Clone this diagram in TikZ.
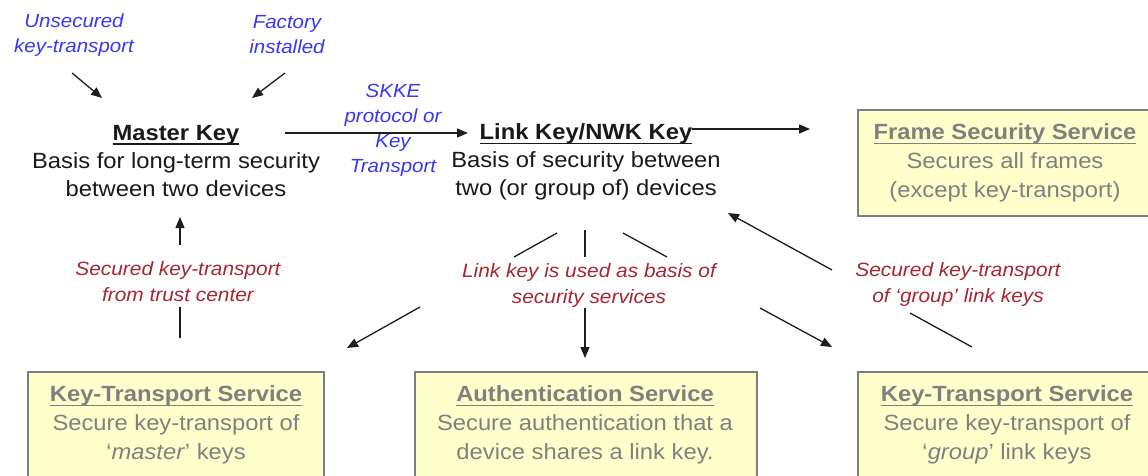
\documentclass[tikz,border=0pt]{standalone}
\usepackage{fontspec}
\setmainfont{Liberation Sans}[FakeStretch=1.08]
\newcommand{\myul}[1]{\leavevmode\setbox0\hbox{#1}\rlap{\rule[-4.5pt]{\wd0}{1.6pt}}\box0}
\usetikzlibrary{arrows.meta}
\definecolor{bluet}{RGB}{55,55,245}
\definecolor{redt}{RGB}{168,38,50}
\definecolor{maincol}{RGB}{25,25,25}
\definecolor{boxfill}{RGB}{255,255,204}
\definecolor{boxline}{RGB}{125,125,125}
\definecolor{boxtext}{RGB}{128,128,128}
\definecolor{arrcol}{RGB}{30,30,30}
\begin{document}
\begin{tikzpicture}[x=1pt,y=-1pt,
  maintext/.style={font=\fontsize{22}{28}\selectfont, text=maincol, align=center, inner sep=0pt},
  bluelab/.style={font=\fontsize{19}{25}\selectfont\itshape, text=bluet, align=center, inner sep=0pt},
  redlab/.style={font=\fontsize{19.3}{26}\selectfont\itshape, text=redt, align=center, inner sep=0pt},
  svcbox/.style={draw=boxline, line width=1.5pt, fill=boxfill, anchor=north west, inner sep=0pt},
  svctext/.style={font=\fontsize{22}{29}\selectfont, text=boxtext, align=center, inner sep=0pt},
  arr/.style={draw=arrcol, line width=1.3pt, -{Triangle[length=11pt,width=9pt]}},
  ln/.style={draw=arrcol, line width=1.3pt}]
\useasboundingbox (0,0) rectangle (1148,475);
\fill[white] (0,0) rectangle (1148,475);

% top labels and key blocks
\node[bluelab] (uns) at (74,35) {Unsecured\\key-transport};
\node[bluelab] (fac) at (287,35) {Factory\\installed};
\node[maintext] (mk) at (176,161) {\textbf{\myul{Master Key}}\\Basis for long-term security\\between two devices};
\node[bluelab] (skke) at (393,130) {SKKE\\protocol or\\Key\\Transport};
\node[maintext] (lk) at (586,162) {\textbf{\myul{Link Key/NWK Key}}\\Basis of security between\\two (or group of) devices};

% service boxes
\node[svcbox, minimum width=320, minimum height=106] (fsb) at (857,109) {};
\node[svctext] (fst) at (1005,163) {\textbf{\myul{Frame Security Service}}\\Secures all frames\\(except key-transport)};
\node[svcbox, minimum width=296, minimum height=130] (ktm) at (27,371) {};
\node[svctext] (ktmt) at (176,425) {\textbf{\myul{Key-Transport Service}}\\Secure key-transport of\\‘\textit{master}’ keys};
\node[svcbox, minimum width=342, minimum height=130] (aut) at (414,371) {};
\node[svctext] (autt) at (585,425) {\textbf{\myul{Authentication Service}}\\Secure authentication that a\\device shares a link key.};
\node[svcbox, minimum width=320, minimum height=130] (ktg) at (857,371) {};
\node[svctext] (ktgt) at (1007,425) {\textbf{\myul{Key-Transport Service}}\\Secure key-transport of\\‘\textit{group}’ link keys};

% red labels
\node[redlab] (sktc) at (178,282) {Secured key-transport\\from trust center};
\node[redlab] (lkub) at (589,286) {Link key is used as basis of\\security services};
\node[redlab] (skg) at (958,285) {Secured key-transport\\of ‘group’ link keys};

% connector end points
\coordinate (a1s) at (72,73);   \coordinate (a1e) at (102,98);
\coordinate (a2s) at (285,73);  \coordinate (a2e) at (252,98);
\coordinate (mkr) at (285,133); \coordinate (lkl) at (468,133);
\coordinate (lkr) at (692,129); \coordinate (fsl) at (810,129);
\coordinate (upS) at (180,245); \coordinate (upE) at (180,217);
\coordinate (tcS) at (180,307); \coordinate (tcE) at (180,338);
\coordinate (f1s) at (557,233); \coordinate (f1e) at (514,257);
\coordinate (f2s) at (585,230); \coordinate (f2e) at (585,257);
\coordinate (f3s) at (623,233); \coordinate (f3e) at (667,257);
\coordinate (b1s) at (420,307); \coordinate (b1e) at (347,348);
\coordinate (b2s) at (585,308); \coordinate (b2e) at (585,358);
\coordinate (b3s) at (760,308); \coordinate (b3e) at (832,347);
\coordinate (gS) at (832,270);  \coordinate (gE) at (728,213);
\coordinate (g2s) at (910,313); \coordinate (g2e) at (972,347);

% connectors
\draw[arr] (a1s) -- (a1e);
\draw[arr] (a2s) -- (a2e);
\draw[arr] (mkr) -- (lkl);
\draw[arr] (lkr) -- (fsl);
\draw[arr] (upS) -- (upE);
\draw[ln] (tcS) -- (tcE);
\draw[ln] (f1s) -- (f1e);
\draw[ln] (f2s) -- (f2e);
\draw[ln] (f3s) -- (f3e);
\draw[arr] (b1s) -- (b1e);
\draw[arr] (b2s) -- (b2e);
\draw[arr] (b3s) -- (b3e);
\draw[arr] (gS) -- (gE);
\draw[ln] (g2s) -- (g2e);
\end{tikzpicture}
\end{document}
